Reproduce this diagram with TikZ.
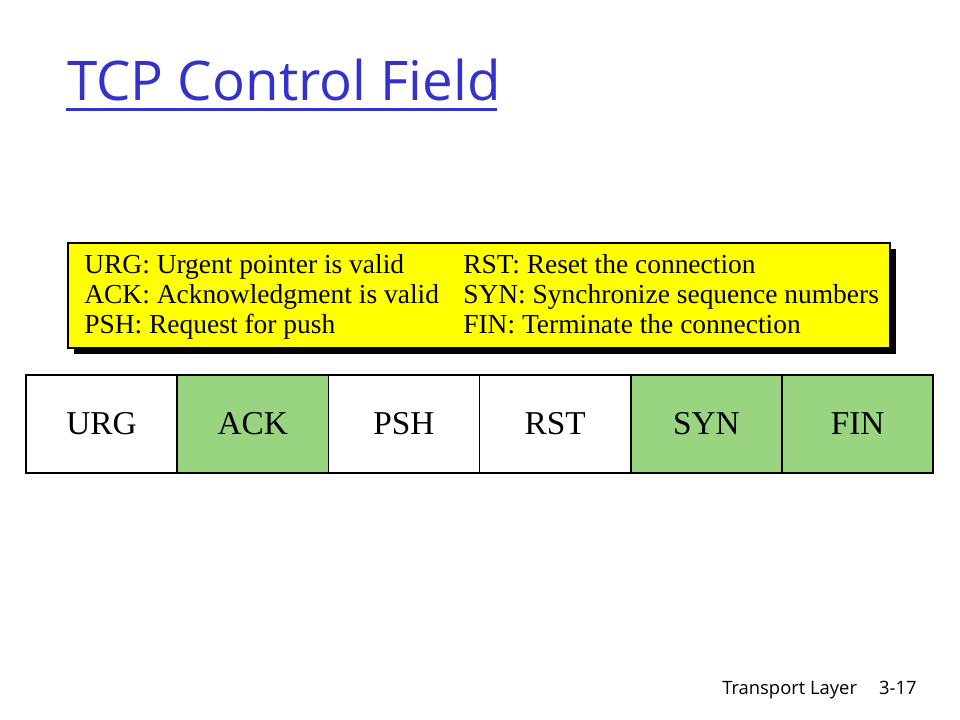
\documentclass[tikz,border=0pt]{standalone}
\usepackage{fontspec}
\setmainfont{Liberation Serif}
\newfontfamily\titlefont{Open Sans}
\definecolor{titleblue}{RGB}{51,51,204}
\definecolor{flaggreen}{RGB}{153,212,128}
\definecolor{noteyellow}{RGB}{255,255,0}
\begin{document}
\begin{tikzpicture}[x=0.75pt,y=-0.75pt,
  cell/.style={draw=black,line width=1.2pt,minimum width=151.2*0.75pt,minimum height=98*0.75pt,inner sep=0pt,font=\fontsize{25}{27}\selectfont,text=black},
  plain/.style={cell,fill=white},
  green/.style={cell,fill=flaggreen},
  note/.style={anchor=base west,inner sep=0pt,font=\fontsize{20.6}{23}\selectfont}]
\useasboundingbox (0,0) rectangle (960,720);
% title
\node[anchor=base west,inner sep=0pt,text=titleblue,font=\titlefont\fontsize{41}{43}\selectfont] (title) at (67,101) {TCP Control Field};
\draw[titleblue,line width=2.2pt] (66,109.5) -- (497,109.5);
% legend box
\fill[black] (74,249) rectangle (896,354);
\draw[fill=noteyellow,line width=1.5pt] (68,243) rectangle (890,348);
\node[note] (l1) at (84,274) {URG: Urgent pointer is valid};
\node[note] (l2) at (84,303.5) {ACK: Acknowledgment is valid};
\node[note] (l3) at (84,333) {PSH: Request for push};
\node[note] (r1) at (463,274) {RST: Reset the connection};
\node[note] (r2) at (463,303.5) {SYN: Synchronize sequence numbers};
\node[note] (r3) at (463,333) {FIN: Terminate the connection};
% field cells
\node[plain] (urg) at (101.6,424) {URG};
\node[green] (ack) at (252.8,424) {ACK};
\node[plain] (psh) at (404.0,424) {PSH};
\node[plain] (rst) at (555.2,424) {RST};
\node[green] (syn) at (706.4,424) {SYN};
\node[green] (fin) at (857.6,424) {FIN};
% footer
\node[anchor=base west,inner sep=0pt,font=\titlefont\fontsize{13.8}{15}\selectfont] (footer) at (722,694) {Transport Layer\hspace{1.2em}3-17};
\end{tikzpicture}
\end{document}
